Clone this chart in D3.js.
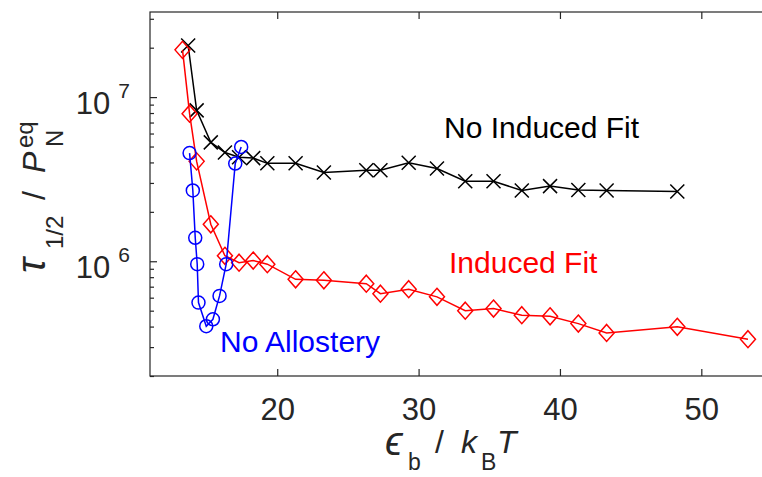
<!DOCTYPE html>
<html>
<head>
<meta charset="utf-8">
<script src="https://cdn.jsdelivr.net/npm/d3@7"></script>
<style>
  body { margin: 0; background: #fff; }
  svg { display: block; }
  text { font-family: "Liberation Sans", Arial, Helvetica, sans-serif; }
</style>
</head>
<body>
<svg id="chart" width="762" height="477"></svg>
<script>
// Binding energy (units of kBT) and half-time over equilibrium native probability
const noFitX = [13.7, 14.3, 15.3, 16.3, 17.3, 18.3, 19.3, 21.3, 23.3, 26.3, 27.3, 29.3, 31.3, 33.3, 35.3, 37.3, 39.3, 41.3, 43.3, 48.3];
const noFitY = [2.06e7, 8.3e6, 5.3e6, 4.6e6, 4.3e6, 4.25e6, 3.95e6, 3.95e6, 3.47e6, 3.58e6, 3.58e6, 3.98e6, 3.67e6, 3.07e6, 3.07e6, 2.7e6, 2.87e6, 2.72e6, 2.7e6, 2.66e6];

const fitX = [13.3, 13.8, 14.3, 15.3, 16.3, 17.3, 18.3, 19.3, 21.3, 23.3, 26.3, 27.3, 29.3, 31.3, 33.3, 35.3, 37.3, 39.3, 41.3, 43.3, 48.3, 53.3];
const fitY = [1.94e7, 7.93e6, 4.06e6, 1.68e6, 1.08e6, 9.8e5, 1.01e6, 9.6e5, 7.76e5, 7.66e5, 7.3e5, 6.35e5, 6.76e5, 6.07e5, 5.0e5, 5.15e5, 4.69e5, 4.62e5, 4.17e5, 3.66e5, 3.99e5, 3.35e5];

const noAlloX = [13.8, 14.03, 14.2, 14.34, 14.43, 14.98, 15.45, 15.92, 16.39, 17.03, 17.45];
const noAlloY = [4.56e6, 2.7e6, 1.39e6, 9.6e5, 5.6e5, 4.02e5, 4.43e5, 6.15e5, 9.6e5, 3.94e6, 4.97e6];

const xTicks = [20, 30, 40, 50];
const yMajor = [1e6, 1e7];
const yMinor = [2e5, 3e5, 4e5, 5e5, 6e5, 7e5, 8e5, 9e5, 2e6, 3e6, 4e6, 5e6, 6e6, 7e6, 8e6, 9e6, 2e7, 3e7];

const seriesLabels = ["No Induced Fit", "Induced Fit", "No Allostery"];

const svg = d3.select("#chart");
const plotL = 150, plotR = 772, plotT = 12, plotB = 376;
const axisColor = "#262626";

const x = d3.scaleLinear().domain([11, 55]).range([plotL, plotR]);
const y = d3.scaleLog().domain([2e5, 3.3e7]).range([plotB, plotT]);

svg.append("rect").attr("width", 762).attr("height", 477).attr("fill", "#fff");

// Bottom and top axes (ticks point inward)
const gxB = svg.append("g").attr("transform", `translate(0,${plotB})`)
  .call(d3.axisBottom(x).tickValues(xTicks).tickSizeInner(-7).tickSizeOuter(0).tickPadding(22));
const gxT = svg.append("g").attr("transform", `translate(0,${plotT})`)
  .call(d3.axisTop(x).tickValues(xTicks).tickSizeInner(-7).tickSizeOuter(0).tickFormat(""));

// Left and right axes: minor then major ticks
const gyMinor = svg.append("g").attr("transform", `translate(${plotL},0)`)
  .call(d3.axisLeft(y).tickValues(yMinor).tickSizeInner(-4).tickSizeOuter(0).tickFormat(""));
const gyMajor = svg.append("g").attr("transform", `translate(${plotL},0)`)
  .call(d3.axisLeft(y).tickValues(yMajor).tickSizeInner(-7).tickSizeOuter(0).tickPadding(20).tickFormat(""));
const gyMinorR = svg.append("g").attr("transform", `translate(${plotR},0)`)
  .call(d3.axisRight(y).tickValues(yMinor).tickSizeInner(-4).tickSizeOuter(0).tickFormat(""));
const gyMajorR = svg.append("g").attr("transform", `translate(${plotR},0)`)
  .call(d3.axisRight(y).tickValues(yMajor).tickSizeInner(-7).tickSizeOuter(0).tickFormat(""));

[gxB, gxT, gyMinor, gyMajor, gyMinorR, gyMajorR].forEach(g => {
  g.select(".domain").remove();
  g.selectAll(".tick line").attr("stroke", axisColor).attr("stroke-width", 1.2);
});

gxB.selectAll(".tick text").attr("font-size", 31).attr("fill", axisColor)
  .attr("font-family", '"Liberation Sans", Arial, sans-serif');

// Power-of-ten labels with superscript exponent
gyMajor.selectAll(".tick text").each(function(d) {
  const t = d3.select(this);
  t.text(null).attr("dy", null).attr("y", 16).attr("x", -20)
    .attr("font-size", 31).attr("fill", axisColor)
    .attr("font-family", '"Liberation Sans", Arial, sans-serif');
  t.append("tspan").text("10");
  t.append("tspan").attr("dx", 8).attr("dy", -16).attr("font-size", 21)
    .text(Math.round(Math.log10(d)));
});

// Axes box
svg.append("rect").attr("x", plotL).attr("y", plotT)
  .attr("width", plotR - plotL).attr("height", plotB - plotT)
  .attr("fill", "none").attr("stroke", axisColor).attr("stroke-width", 1.2);

const line = d3.line().x(d => x(d[0])).y(d => y(d[1]));
const zip = (xs, ys) => xs.map((v, i) => [v, ys[i]]);

function drawSeries(data, color, marker) {
  const g = svg.append("g");
  g.append("path").datum(data).attr("d", line)
    .attr("fill", "none").attr("stroke", color).attr("stroke-width", 1.5);
  const m = g.selectAll("g.m").data(data).join("g")
    .attr("transform", d => `translate(${x(d[0])},${y(d[1])})`);
  if (marker === "x") {
    m.append("path").attr("d", "M-7,-7L7,7M-7,7L7,-7");
  } else if (marker === "diamond") {
    m.append("path").attr("d", "M0,-8.5L7.5,0L0,8.5L-7.5,0Z");
  } else {
    m.append("circle").attr("r", 6.5);
  }
  m.selectAll("path,circle").attr("fill", "none").attr("stroke", color).attr("stroke-width", 1.5);
}

drawSeries(zip(noFitX, noFitY), "#000000", "x");
drawSeries(zip(fitX, fitY), "#ff0000", "diamond");
drawSeries(zip(noAlloX, noAlloY), "#0000ff", "circle");

// Series annotations
svg.append("text").attr("x", 444).attr("y", 138).attr("font-size", 30).attr("fill", "#000").text(seriesLabels[0]);
svg.append("text").attr("x", 449).attr("y", 273).attr("font-size", 30).attr("fill", "#ff0000").text(seriesLabels[1]);
svg.append("text").attr("x", 220).attr("y", 352).attr("font-size", 30).attr("fill", "#0000ff").text(seriesLabels[2]);

// x-axis label: ϵ_b / k_B T
const xl = svg.append("text").attr("fill", axisColor).attr("font-size", 32);
xl.append("tspan").attr("x", 385).attr("y", 455).attr("font-size", 40).attr("font-style", "italic").text("ϵ");
xl.append("tspan").attr("x", 408).attr("y", 470).attr("font-size", 23).text("b");
xl.append("tspan").attr("x", 435).attr("y", 453).attr("font-weight", 300).text("/");
xl.append("tspan").attr("x", 461).attr("y", 453).attr("font-style", "italic").text("k");
xl.append("tspan").attr("x", 481).attr("y", 470).attr("font-size", 23).text("B");
xl.append("tspan").attr("x", 497).attr("y", 453).attr("font-style", "italic").text("T");

// y-axis label: τ_1/2 / P_N^eq
const yl = svg.append("text").attr("fill", axisColor).attr("font-size", 32)
  .attr("transform", "translate(45,273) rotate(-90)");
yl.append("tspan").attr("x", 0).attr("y", 0).attr("font-size", 40).attr("font-style", "italic").text("τ");
yl.append("tspan").attr("x", 24).attr("y", 18).attr("font-size", 24).text("1/2");
yl.append("tspan").attr("x", 73).attr("y", 0).text("/");
yl.append("tspan").attr("x", 100).attr("y", 0).attr("font-style", "italic").text("P");
yl.append("tspan").attr("x", 125).attr("y", -12).attr("font-size", 24).text("eq");
yl.append("tspan").attr("x", 126).attr("y", 18).attr("font-size", 24).text("N");
</script>
</body>
</html>
